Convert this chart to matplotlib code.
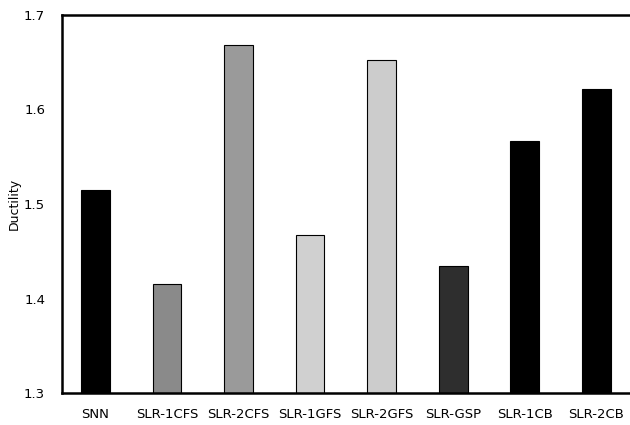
import matplotlib.pyplot as plt
import numpy as np

names = ["SNN", "SLR-1CFS", "SLR-2CFS", "SLR-1GFS", "SLR-2GFS", "SLR-GSP", "SLR-1CB", "SLR-2CB"]
ductility = [1.515, 1.415, 1.668, 1.467, 1.652, 1.434, 1.567, 1.622]
shades = ["#000000", "#8a8a8a", "#9a9a9a", "#d0d0d0", "#cccccc", "#2e2e2e", "#000000", "#000000"]

fig = plt.figure(figsize=(6.3, 4.25), dpi=100)
ax = fig.add_axes([0.098, 0.075, 0.902, 0.89])

x = np.arange(len(names))
ax.bar(x, ductility, width=0.4, bottom=0, color=shades, edgecolor="black", linewidth=0.8)

ax.set_ylim(1.3, 1.7)
ax.set_xlim(-0.47, 7.47)
ax.set_yticks([1.3, 1.4, 1.5, 1.6, 1.7])
ax.set_yticklabels(["1.3", "1.4", "1.5", "1.6", "1.7"], fontsize=9.5)
ax.set_xticks(x)
ax.set_xticklabels(names, fontsize=9.5)
ax.tick_params(axis="x", length=0, pad=11)
ax.tick_params(axis="y", length=0, pad=12)
ax.set_ylabel("Ductility", fontsize=9)
ax.yaxis.set_label_coords(-0.072, 0.5)

for s in ["left", "bottom", "top"]:
    ax.spines[s].set_linewidth(1.8)
ax.spines["right"].set_visible(False)

fig.savefig("out.png", dpi=100)
